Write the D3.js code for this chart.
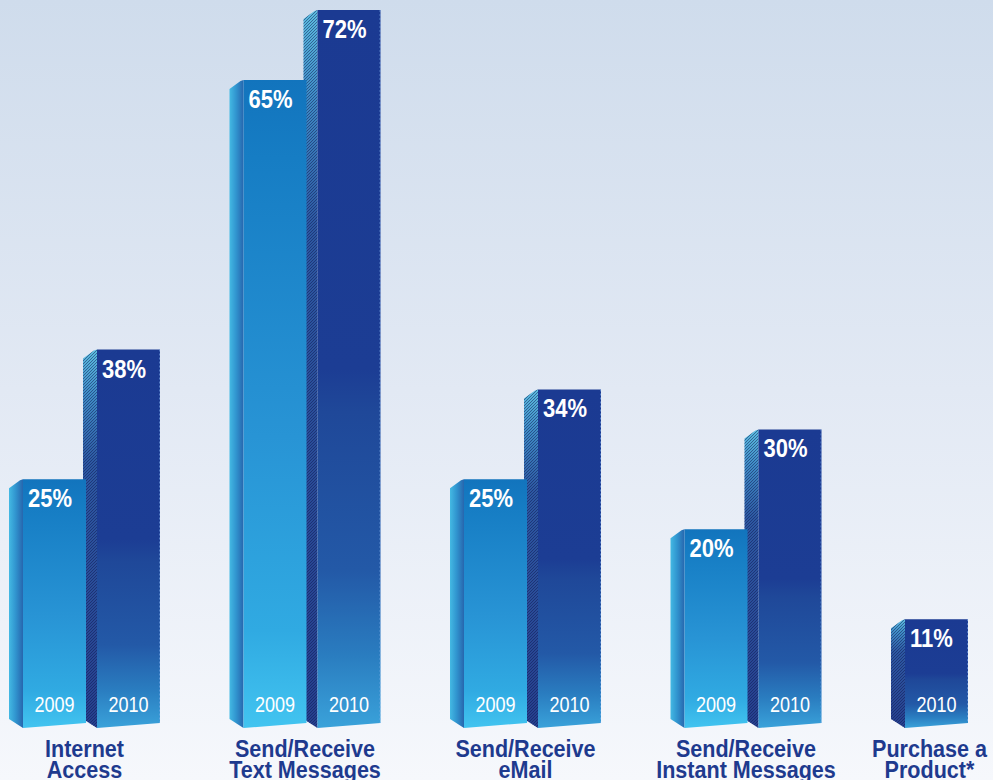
<!DOCTYPE html>
<html>
<head>
<meta charset="utf-8">
<script src="https://cdn.jsdelivr.net/npm/d3@7/dist/d3.min.js"></script>
<style>
  html, body { margin: 0; padding: 0; overflow: hidden; background: #f5f7fb; }
  svg { display: block; }
  .cond { font-family: "Liberation Sans", Arial, sans-serif; }
</style>
</head>
<body>
<svg id="chart" width="993" height="780"></svg>
<script>
// ---- data ----
const categories = ["Internet Access", "Send/Receive Text Messages", "Send/Receive eMail", "Send/Receive Instant Messages", "Purchase a Product*"];
const categoryLines = [["Internet", "Access"], ["Send/Receive", "Text Messages"], ["Send/Receive", "eMail"], ["Send/Receive", "Instant Messages"], ["Purchase a", "Product*"]];
const years = ["2009", "2010"];
const values2009 = [25, 65, 25, 20, null];
const values2010 = [38, 72, 34, 30, 11];

// ---- layout ----
const W = 993, H = 780;
const svg = d3.select("#chart");
const defs = svg.append("defs");

const x = d3.scaleBand().domain(categories).range([9, 9 + 220.5 * categories.length]).paddingInner(0).paddingOuter(0);
const sub = d3.scalePoint().domain(years).range([0, 74]);
const y = d3.scaleLinear().domain([0, 72]).range([729, 10]);

const SIDE = 14, FRONT = 63;
const SX = 0.88; // horizontal condensing of text

// background
const bg = defs.append("linearGradient").attr("id", "bg").attr("x1", 0).attr("y1", 0).attr("x2", 0).attr("y2", 1);
bg.append("stop").attr("offset", 0).attr("stop-color", "#cfdcec");
bg.append("stop").attr("offset", 0.5).attr("stop-color", "#e2e9f4");
bg.append("stop").attr("offset", 1).attr("stop-color", "#f6f8fc");
svg.append("rect").attr("width", W).attr("height", H).attr("fill", "url(#bg)");

function grad(id, stops, horiz) {
  const g = defs.append("linearGradient").attr("id", id)
    .attr("x1", 0).attr("y1", 0).attr("x2", horiz ? 1 : 0).attr("y2", horiz ? 0 : 1);
  stops.forEach(s => g.append("stop").attr("offset", s[0]).attr("stop-color", s[1]));
}
grad("front2009", [[0, "#1274bd"], [0.12, "#167dc4"], [0.55, "#2894d5"], [0.85, "#30aae2"], [1, "#42c4f0"]]);
grad("front2010", [[0, "#1b3a92"], [0.5, "#1c3d94"], [0.56, "#1f4899"], [0.78, "#2359a7"], [0.9, "#2a7dc0"], [1, "#3aa2da"]]);
grad("side2009", [[0, "#44b9e3"], [0.45, "#3196d0"], [1, "#2766ae"]], true);
grad("side2010", [[0, "#5cbde0"], [0.12, "#3f8cc6"], [0.3, "#2d58a2"], [1, "#263f8e"]]);

const hatch = defs.append("pattern").attr("id", "hatch").attr("patternUnits", "userSpaceOnUse")
  .attr("width", 3).attr("height", 3);
hatch.append("path").attr("d", "M0,3 L3,0 M-1,1 L1,-1 M2,4 L4,2").attr("stroke", "rgba(15,25,80,0.55)").attr("stroke-width", 0.9);

const y0 = y(0);

function sidePts(xs, top) {
  return [[xs, top + 9], [xs + SIDE - 3, top + 1], [xs + SIDE, top], [xs + SIDE, y0 - 1], [xs, y0 - 10]];
}
function frontPts(xf, top) {
  return [[xf, top], [xf + FRONT, top], [xf + FRONT, y0 - 6], [xf, y0 - 1]];
}
const line = d3.line();

function condText(parent, tx, ty, sx) {
  return parent.append("text").attr("class", "cond")
    .attr("transform", `translate(${tx},${ty}) scale(${sx},1)`);
}

const bars = [];
categories.forEach((c, i) => {
  const present = years.filter((yr, k) => (k === 0 ? values2009[i] : values2010[i]) != null);
  present.forEach((yr, j) => {
    const v = yr === "2009" ? values2009[i] : values2010[i];
    bars.push({ cat: c, i, year: yr, value: v, xs: x(c) + sub(years[j]) });
  });
});

// draw 2010 first so 2009 front overlaps it
const order = bars.slice().sort((a, b) => (a.year === "2010" ? -1 : 1) - (b.year === "2010" ? -1 : 1));
const g = svg.append("g");
order.forEach(b => {
  const top = y(b.value);
  const xf = b.xs + SIDE;
  const bg_ = g.append("g");
  bg_.append("path").attr("d", line(sidePts(b.xs, top)) + "Z").attr("fill", `url(#side${b.year})`);
  if (b.year === "2010") {
    bg_.append("path").attr("d", line(sidePts(b.xs, top)) + "Z").attr("fill", "url(#hatch)");
  }
  bg_.append("path").attr("d", line(frontPts(xf, top)) + "Z").attr("fill", `url(#front${b.year})`);
  if (b.year === "2010") {
    bg_.append("line").attr("x1", xf + FRONT - 0.5).attr("x2", xf + FRONT - 0.5).attr("y1", top).attr("y2", y0 - 6)
      .attr("stroke", "rgba(130,175,235,0.55)").attr("stroke-width", 1).attr("stroke-dasharray", "2,2");
  }
  condText(bg_, xf + 5, top + 28, SX)
    .attr("fill", "#ffffff").attr("font-size", 25).attr("font-weight", "bold")
    .text(b.value + "%");
  condText(bg_, xf + FRONT / 2, y0 - 17, 0.82)
    .attr("text-anchor", "middle").attr("fill", "#ffffff").attr("font-size", 22)
    .text(b.year);
});

// category labels
categories.forEach((c, i) => {
  const bs = bars.filter(b => b.i === i);
  const cx = (d3.min(bs, b => b.xs) + d3.max(bs, b => b.xs + SIDE + FRONT)) / 2;
  categoryLines[i].forEach((ln, k) => {
    condText(svg, cx, 757 + k * 21, SX)
      .attr("text-anchor", "middle").attr("fill", "#1e3a8e")
      .attr("font-size", 24.5).attr("font-weight", "bold")
      .text(ln);
  });
});
</script>
</body>
</html>
